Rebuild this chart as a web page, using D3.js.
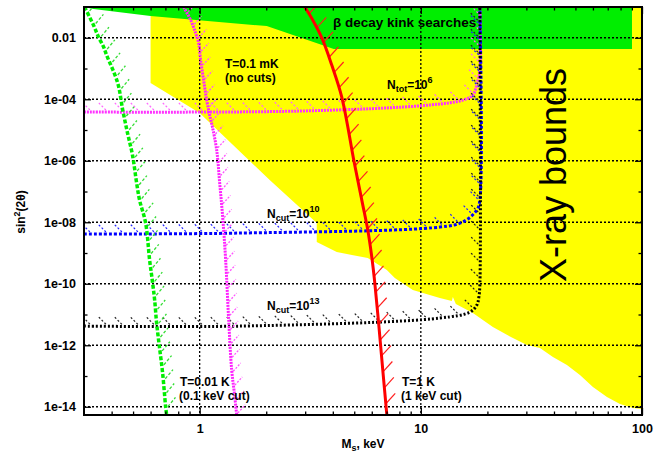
<!DOCTYPE html>
<html><head><meta charset="utf-8">
<script src="https://cdn.jsdelivr.net/npm/d3@7"></script>
<style>
html,body{margin:0;padding:0;background:#fff;}
svg{display:block;font-family:"Liberation Sans",Arial,Helvetica,sans-serif;}
</style></head><body>
<svg id="chart" width="656" height="455"></svg>
<script>
// ---------------- data ----------------
const xDomain = [0.3, 100];
const yDomain = [5.4e-15, 0.1];
const xMajorTicks = [1, 10, 100];
const xTickLabels = ["1", "10", "100"];
const xMinorTicks = [0.4,0.5,0.6,0.7,0.8,0.9,2,3,4,5,6,7,8,9,20,30,40,50,60,70,80,90];
const xGrid = [1, 10];
const yMajorTicks = [1e-2,1e-4,1e-6,1e-8,1e-10,1e-12,1e-14];
const yTickLabels = ["0.01","1e-04","1e-06","1e-08","1e-10","1e-12","1e-14"];
const yMinorTicks = [1e-3,1e-5,1e-7,1e-9,1e-11,1e-13];

// X-ray bounds (yellow) lower edge, left to right
const xrayM = [0.600,0.600,1.000,2.074,3.384,3.384,4.168,5.757,7.019,7.627,9.201,12.19,13.81,13.96,14.40,17.19,21.17,26.08,30.18,34.55,39.56,45.77,52.41,60.00,69.43,79.5,91.0,100];
const xrayS = [1e-1,3.37e-4,3.56e-5,2.35e-7,9.42e-9,2.27e-9,1.07e-9,6.84e-10,2.79e-10,1.53e-10,6.24e-11,3.43e-11,2.74e-11,3.69e-11,2.19e-11,1.11e-11,3.91e-12,1.71e-12,1.02e-12,8.1e-13,4.13e-13,2.27e-13,1.07e-13,4.37e-14,2.07e-14,1.22e-14,9.1e-15,8.4e-15];

// beta decay kink searches (green)
const betaM = [0.3,0.331,0.600,2.01,4.04,90.1,90.1];
const betaS = [0.1,8.57e-2,5.08e-2,2.4e-2,4.3e-3,4.3e-3,0.1];

// T=0.01 K (0.1 keV cut)
const t001M = [0.3017,0.331,0.349,0.368,0.3795,0.426,0.449,0.472,0.497,0.519,0.535,0.570,0.594,0.613,0.626,0.639,0.659,0.680,0.702,0.709];
const t001S = [1e-1,2.59e-2,1.05e-2,4.99e-3,2.74e-3,3.4e-4,4.46e-5,7.96e-6,1.53e-6,1.88e-7,5.27e-8,9.4e-9,5.9e-10,1.05e-10,2.95e-11,5.2e-12,8.1e-13,1.26e-13,9.8e-15,5.4e-15];

// T=0.1 mK (no cuts)
const t01mM = [0.846,0.911,0.959,0.990,1.010,1.042,1.076,1.110,1.145,1.194,1.232,1.271,1.311,1.353,1.396,1.439,1.470];
const t01mS = [1e-1,3.77e-2,1.42e-2,6.7e-3,1.88e-3,4.2e-4,9.4e-5,3.06e-5,1.16e-5,2.24e-6,1.88e-7,1.48e-8,5.9e-10,6.6e-12,1.55e-13,2.4e-14,5.4e-15];

// T=1 K (1 keV cut)
const t1M = [2.986,3.245,3.603,3.956,4.391,4.976,5.187,5.466,5.757,6.002,6.194,6.457,6.73,7.02];
const t1S = [1e-1,3.77e-2,8.4e-3,1.29e-3,1.18e-4,1.05e-6,2.35e-7,3.62e-8,5.57e-9,7.4e-10,1.05e-10,4.5e-12,1.55e-13,5.4e-15];

// N_tot = 10^6
const ntotM = [0.3,2.832,10.98,15.49,17.19,18.11,18.49,18.49];
const ntotS = [3.84e-5,4.13e-5,6.5e-5,9.4e-5,1.37e-4,4.2e-4,8.9e-4,1e-1];
// N_cut = 10^10
const n10M = [0.3,1.517,12.19,15.49,17.92,18.49,18.49];
const n10S = [4.13e-9,4.45e-9,6.98e-9,1.02e-8,2.5e-8,5.3e-8,1e-1];
// N_cut = 10^13
const n13M = [0.3,1.517,12.19,16.67,17.92,18.3,18.49,18.49];
const n13S = [4.2e-12,4.2e-12,7.66e-12,1.2e-11,2.03e-11,3.69e-11,9.06e-11,1e-1];

// ---------------- layout ----------------
const svg = d3.select("#chart");
const L = 84, R = 642, T = 7, B = 415;
const x = d3.scaleLog().domain(xDomain).range([L, R]);
const y = d3.scaleLog().domain(yDomain).range([B, T]);

svg.append("defs").append("clipPath").attr("id","clip")
  .append("rect").attr("x",L).attr("y",T).attr("width",R-L).attr("height",B-T);

const plot = svg.append("g").attr("clip-path","url(#clip)");
const lin = d3.line().x(d=>x(d[0])).y(d=>y(d[1]));
const zip = (a,b)=>a.map((v,i)=>[v,b[i]]);

// fills
plot.append("path").attr("d", lin(zip(xrayM,xrayS).concat([[100,0.1]]))+"Z").attr("fill","#ffff00");
plot.append("path").attr("d", lin(zip(betaM,betaS))+"Z").attr("fill","#00ee00");

// grid
const grid = plot.append("g").attr("stroke","#000").attr("stroke-width",1.3).attr("stroke-dasharray","2,2");
yMajorTicks.forEach(v=>grid.append("line").attr("x1",L).attr("x2",R).attr("y1",y(v)).attr("y2",y(v)));
xGrid.forEach(v=>grid.append("line").attr("x1",x(v)).attr("x2",x(v)).attr("y1",T).attr("y2",B));

// curves + hatches
const smooth = d3.line().x(d=>x(d[0])).y(d=>y(d[1])).curve(d3.curveCatmullRom.alpha(0.5));
function curve(ms, ss, st, h) {
  const p = plot.append("path").attr("d", smooth(zip(ms,ss))).attr("fill","none")
    .attr("stroke", st.color).attr("stroke-width", st.width)
    .attr("stroke-dasharray", st.dash || null);
  const node = p.node(), tot = node.getTotalLength();
  const hg = plot.insert("g", () => node).attr("stroke", h.color).attr("stroke-width", h.width)
    .attr("stroke-dasharray", h.dash || null);
  const n = Math.hypot(h.dir[0],h.dir[1]);
  const dx = h.dir[0]/n, dy = h.dir[1]/n;
  for (let s = h.spacing/2; s < tot; s += h.spacing) {
    const pt = node.getPointAtLength(s);
    hg.append("line")
      .attr("x1", pt.x + dx*h.off).attr("y1", pt.y + dy*h.off)
      .attr("x2", pt.x + dx*(h.off+h.len)).attr("y2", pt.y + dy*(h.off+h.len));
  }
}

curve(ntotM, ntotS, {color:"#ff33ff", width:3, dash:"2,1"},
      {color:"#ff66ff", width:1.2, dash:"2,2", spacing:16, len:11, off:3, dir:[-1,-1]});
curve(n10M, n10S, {color:"#0000ff", width:3, dash:"3,2"},
      {color:"#2222ff", width:1.2, dash:"2,2", spacing:16, len:11, off:3, dir:[-1,-1]});
curve(n13M, n13S, {color:"#000000", width:3, dash:"2,2"},
      {color:"#222222", width:1.2, dash:"2,2", spacing:16, len:11, off:3, dir:[-1,-1]});
curve(t001M, t001S, {color:"#00ee00", width:3.5, dash:"4,2"},
      {color:"#33dd33", width:1.3, dash:"3,2", spacing:14, len:12, off:3, dir:[1,-1.2]});
curve(t01mM, t01mS, {color:"#ff22ff", width:3, dash:"2,1"},
      {color:"#ff55ff", width:1.3, dash:"2,1.5", spacing:14, len:11, off:2, dir:[1,-1.1]});
curve(t1M, t1S, {color:"#ff0000", width:3},
      {color:"#ff2020", width:1.2, spacing:16, len:13, off:1, dir:[1,-1.1]});

// ---------------- labels ----------------
function label(xp, yp, parts, size, weight) {
  const t = svg.append("text").attr("x",xp).attr("y",yp).attr("font-size",size)
    .attr("font-weight", weight || "bold").attr("fill","#000");
  parts.forEach(p => {
    const s = t.append("tspan").text(p.t);
    if (p.dy) s.attr("dy", p.dy);
    if (p.fs) s.attr("font-size", p.fs);
  });
  return t;
}
label(333, 27, [{t:"β decay kink searches"}], 13.5);
label(225, 68, [{t:"T=0.1 mK"}], 12);
label(225, 82, [{t:"(no cuts)"}], 12);
label(387, 89, [{t:"N"},{t:"tot",dy:3,fs:9},{t:"=10",dy:-3},{t:"6",dy:-6,fs:9}], 12);
label(267, 218, [{t:"N"},{t:"cut",dy:3,fs:9},{t:"=10",dy:-3},{t:"10",dy:-6,fs:9}], 12);
label(267, 310, [{t:"N"},{t:"cut",dy:3,fs:9},{t:"=10",dy:-3},{t:"13",dy:-6,fs:9}], 12);
label(180, 386, [{t:"T=0.01 K"}], 12);
label(179, 400, [{t:"(0.1 keV cut)"}], 12);
label(402, 386, [{t:"T=1 K"}], 12);
label(401, 400, [{t:"(1 keV cut)"}], 12);

svg.append("text").attr("transform","translate(566,175) rotate(-90)")
  .attr("text-anchor","middle").attr("font-size",36).attr("fill","#000").text("X-ray bounds");

// axis titles
const yl = svg.append("text").attr("transform","translate(25,212) rotate(-90)")
  .attr("text-anchor","middle").attr("font-size",12).attr("font-weight","bold");
yl.append("tspan").text("sin");
yl.append("tspan").attr("dy",-5).attr("font-size",9).text("2");
yl.append("tspan").attr("dy",5).text("(2θ)");
const xl = svg.append("text").attr("x",363).attr("y",448)
  .attr("text-anchor","middle").attr("font-size",12).attr("font-weight","bold");
xl.append("tspan").text("M");
xl.append("tspan").attr("dy",3).attr("font-size",9).text("s");
xl.append("tspan").attr("dy",-3).text(", keV");

// ---------------- axes ----------------
function styleAxis(g) {
  g.select(".domain").remove();
  g.selectAll("line").attr("stroke","#000").attr("stroke-width",1.3);
  g.selectAll("text").attr("font-family",'"Liberation Sans",Arial,sans-serif')
    .attr("font-size",12.5).attr("font-weight","bold").attr("fill","#000");
}
svg.append("g").attr("transform",`translate(0,${B})`)
  .call(d3.axisBottom(x).tickValues(xMajorTicks).tickFormat((d,i)=>xTickLabels[i]).tickSizeInner(-7).tickSizeOuter(0).tickPadding(9)).call(styleAxis);
svg.append("g").attr("transform",`translate(0,${B})`)
  .call(d3.axisBottom(x).tickValues(xMinorTicks).tickFormat("").tickSizeInner(-3.5).tickSizeOuter(0)).call(styleAxis);
svg.append("g").attr("transform",`translate(0,${T})`)
  .call(d3.axisTop(x).tickValues(xMajorTicks).tickFormat("").tickSizeInner(-7).tickSizeOuter(0)).call(styleAxis);
svg.append("g").attr("transform",`translate(0,${T})`)
  .call(d3.axisTop(x).tickValues(xMinorTicks).tickFormat("").tickSizeInner(-3.5).tickSizeOuter(0)).call(styleAxis);
svg.append("g").attr("transform",`translate(${L},0)`)
  .call(d3.axisLeft(y).tickValues(yMajorTicks).tickFormat((d,i)=>yTickLabels[i]).tickSizeInner(-7).tickSizeOuter(0).tickPadding(8)).call(styleAxis);
svg.append("g").attr("transform",`translate(${L},0)`)
  .call(d3.axisLeft(y).tickValues(yMinorTicks).tickFormat("").tickSizeInner(-3.5).tickSizeOuter(0)).call(styleAxis);
svg.append("g").attr("transform",`translate(${R},0)`)
  .call(d3.axisRight(y).tickValues(yMajorTicks).tickFormat("").tickSizeInner(-7).tickSizeOuter(0)).call(styleAxis);
svg.append("g").attr("transform",`translate(${R},0)`)
  .call(d3.axisRight(y).tickValues(yMinorTicks).tickFormat("").tickSizeInner(-3.5).tickSizeOuter(0)).call(styleAxis);

svg.append("rect").attr("x",L).attr("y",T).attr("width",R-L).attr("height",B-T)
  .attr("fill","none").attr("stroke","#000").attr("stroke-width",2);
</script>
</body></html>
